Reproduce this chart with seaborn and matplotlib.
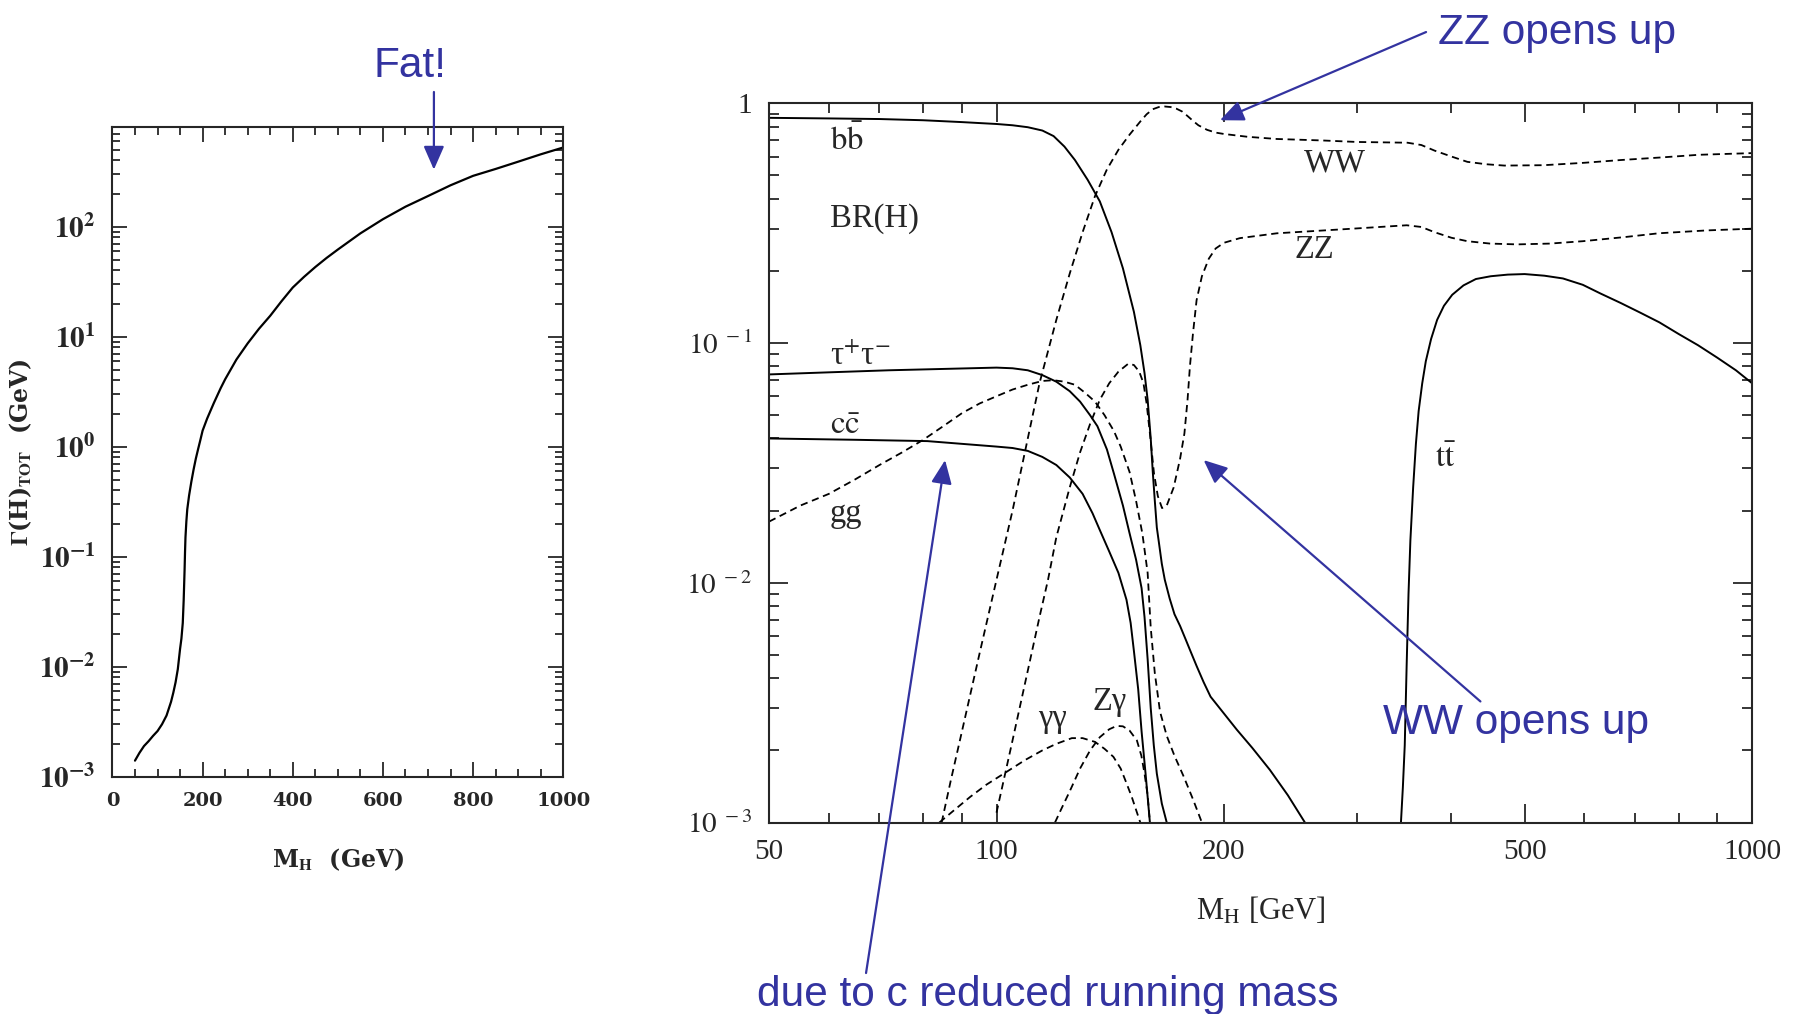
import math
import matplotlib
matplotlib.use("Agg")
import matplotlib.pyplot as plt
import matplotlib.ticker as mticker
import seaborn as sns

# ---- total width Gamma(H) vs M_H (left panel) ----
m_tot = [50, 60, 70, 80, 90, 100, 110, 120, 130, 135, 140, 145, 150, 153, 156, 158, 160, 161, 162,
         164, 166, 170, 175, 180, 185, 190, 195, 200, 210, 225, 240, 250, 275, 300, 325, 350, 375,
         400, 425, 450, 475, 500, 550, 600, 650, 700, 750, 800, 850, 900, 950, 1000]
gamma_tot = [1.4e-3, 1.65e-3, 1.9e-3, 2.1e-3, 2.35e-3, 2.6e-3, 3.0e-3, 3.6e-3, 4.8e-3, 5.8e-3,
             7.2e-3, 9.5e-3, 0.0145, 0.018, 0.025, 0.04, 0.075, 0.11, 0.15, 0.21, 0.27, 0.36, 0.48,
             0.62, 0.78, 0.95, 1.15, 1.4, 1.8, 2.5, 3.4, 4.1, 6.2, 8.7, 11.8, 15.5, 21, 28, 35, 43,
             52, 62, 87, 117, 152, 190, 238, 290, 335, 390, 455, 525]

# ---- branching ratios (right panel) ----
bb_m = [50, 60, 70, 80, 90, 100, 105, 110, 115, 119, 123, 127, 132, 137, 142, 147, 152, 155, 157,
        158.5, 160, 161, 162, 163, 164, 165.5, 167, 169.5, 172, 175, 178, 181, 184, 188, 192, 200,
        208, 218, 230, 243, 256]
bb_br = [0.87, 0.865, 0.86, 0.85, 0.835, 0.82, 0.81, 0.795, 0.77, 0.73, 0.66, 0.58, 0.48, 0.39,
         0.29, 0.205, 0.135, 0.098, 0.075, 0.058, 0.040, 0.029, 0.022, 0.017, 0.0148, 0.012, 0.0103,
         8.6e-3, 7.4e-3, 6.6e-3, 5.8e-3, 5.1e-3, 4.5e-3, 3.85e-3, 3.35e-3, 2.85e-3, 2.44e-3,
         2.05e-3, 1.66e-3, 1.3e-3, 1.0e-3]

tau_m = [50, 60, 72, 85, 100, 105, 110, 115, 120, 125, 129, 133, 136, 140, 143, 147, 150, 153,
         155.6, 157, 158.5, 160, 161.5, 163, 165.5, 168]
tau_br = [0.074, 0.0755, 0.077, 0.078, 0.079, 0.0785, 0.077, 0.0735, 0.069, 0.063, 0.057, 0.050,
          0.045, 0.036, 0.0286, 0.021, 0.0161, 0.0125, 9.5e-3, 7.2e-3, 4.8e-3, 3.0e-3, 2.1e-3,
          1.6e-3, 1.2e-3, 1.0e-3]

cc_m = [50, 65, 81, 100, 105, 110, 115, 120, 125, 130, 134, 137, 141, 145, 148.6, 150.5, 152, 154,
        155.6, 157.5, 159.6]
cc_br = [0.040, 0.0395, 0.039, 0.037, 0.0365, 0.0355, 0.0335, 0.031, 0.0275, 0.0235, 0.0195,
         0.0166, 0.0135, 0.011, 8.5e-3, 6.8e-3, 5.2e-3, 3.6e-3, 2.4e-3, 1.6e-3, 1.0e-3]

gg_m = [50, 55, 60, 65, 70, 75, 80, 85, 90, 95, 100, 105, 110, 115, 119, 123, 127, 131, 135, 139,
        143, 146, 150, 153, 156, 158.5, 160, 162, 164.6, 168, 172, 177, 182, 187]
gg_br = [0.018, 0.021, 0.0235, 0.027, 0.031, 0.035, 0.0395, 0.045, 0.051, 0.056, 0.060, 0.064,
         0.067, 0.0695, 0.070, 0.069, 0.067, 0.062, 0.057, 0.050, 0.043, 0.037, 0.029, 0.022,
         0.016, 0.011, 6.5e-3, 4.2e-3, 2.9e-3, 2.3e-3, 1.9e-3, 1.55e-3, 1.25e-3, 1.0e-3]

ww_m = [84.6, 87, 90, 95, 100, 105, 110, 114, 120, 125, 130, 135, 140, 145, 150, 155, 158, 161,
        164, 167, 170, 173, 176, 179, 182, 185, 190, 195, 200, 215, 235, 270, 300, 350, 365, 380,
        400, 420, 445, 470, 530, 600, 670, 760, 850, 1000]
ww_br = [1e-3, 1.5e-3, 2.4e-3, 5.1e-3, 0.0103, 0.02, 0.040, 0.068, 0.125, 0.195, 0.29, 0.41, 0.53,
         0.64, 0.74, 0.84, 0.9, 0.945, 0.965, 0.97, 0.965, 0.95, 0.925, 0.885, 0.845, 0.81, 0.775,
         0.755, 0.745, 0.725, 0.71, 0.70, 0.69, 0.685, 0.67, 0.635, 0.60, 0.57, 0.557, 0.55,
         0.552, 0.565, 0.58, 0.595, 0.61, 0.62]

zz_m = [100, 105, 110, 114, 117, 120, 125, 129, 133, 137, 141, 145, 149.4, 152, 154.5, 156.5, 158,
        159.6, 161.6, 163.5, 165.6, 168, 171.6, 175, 177.3, 179, 180.3, 182, 184, 187, 191, 195,
        200, 210, 235, 296, 349, 365, 380, 400, 420, 450, 489, 540, 597, 680, 752, 870, 1000]
zz_br = [1.1e-3, 2.2e-3, 4.3e-3, 7.2e-3, 0.0103, 0.0155, 0.025, 0.035, 0.046, 0.058, 0.068, 0.076,
         0.082, 0.081, 0.076, 0.068, 0.056, 0.042, 0.0286, 0.023, 0.0205, 0.021, 0.025, 0.033,
         0.042, 0.058, 0.080, 0.11, 0.151, 0.19, 0.225, 0.248, 0.262, 0.274, 0.287, 0.30, 0.31,
         0.305, 0.29, 0.275, 0.266, 0.26, 0.258, 0.26, 0.266, 0.277, 0.287, 0.295, 0.30]

gaga_m = [84, 88, 92.3, 97, 103.2, 109, 115, 120, 125.8, 130, 135, 139, 142.8, 146, 148.6, 151,
          153, 155]
gaga_br = [1e-3, 1.13e-3, 1.28e-3, 1.44e-3, 1.63e-3, 1.82e-3, 2.0e-3, 2.13e-3, 2.25e-3, 2.25e-3,
           2.17e-3, 2.03e-3, 1.88e-3, 1.68e-3, 1.46e-3, 1.28e-3, 1.13e-3, 1e-3]

zga_m = [119.5, 122, 125, 129, 133, 137, 141, 144.2, 147, 150, 153.4, 155.5, 157, 158.5, 159.6]
zga_br = [1e-3, 1.15e-3, 1.35e-3, 1.68e-3, 2.0e-3, 2.27e-3, 2.45e-3, 2.53e-3, 2.52e-3, 2.42e-3,
          2.2e-3, 1.9e-3, 1.6e-3, 1.3e-3, 1e-3]

tt_m = [343, 345, 347, 349, 351, 353, 356, 359, 362, 366, 370, 376, 383, 391, 401, 415, 431, 451,
        475, 500, 531, 562, 597, 630, 670, 711, 754, 800, 848, 899, 952, 1000]
tt_br = [1e-3, 1.4e-3, 2.1e-3, 4.5e-3, 9e-3, 0.015, 0.025, 0.038, 0.052, 0.068, 0.084, 0.104,
         0.125, 0.143, 0.159, 0.174, 0.185, 0.190, 0.193, 0.194, 0.191, 0.186, 0.175, 0.161,
         0.147, 0.134, 0.122, 0.109, 0.098, 0.087, 0.077, 0.068]

solid = [(bb_m, bb_br), (tau_m, tau_br), (cc_m, cc_br), (tt_m, tt_br)]
dashed = [(gg_m, gg_br), (ww_m, ww_br), (zz_m, zz_br), (gaga_m, gaga_br), (zga_m, zga_br)]

# channel labels: text, M_H, BR
labels = [(r'$\mathrm{b\bar{b}}$', 60.2, 0.70), ('BR(H)', 60.2, 0.33),
          ('τ$^{+}$τ$^{-}$', 60.2, 0.088), (r'$\mathrm{c\bar{c}}$', 60.2, 0.045),
          ('gg', 60.2, 0.0194), ('γγ', 113.5, 2.72e-3), ('Zγ', 134, 3.2e-3),
          ('WW', 255, 0.56), ('ZZ', 248, 0.245), (r'$\mathrm{t\bar{t}}$', 380, 0.033)]

BLUE = '#3333a0'

sns.set_style('ticks')
plt.rcParams['font.family'] = ['Liberation Serif', 'DejaVu Serif']
plt.rcParams['mathtext.fontset'] = 'stix'

fig = plt.figure(figsize=(17.99, 10.14), dpi=100)

# ---------------- left panel ----------------
axl = fig.add_axes([0.0625, 0.234, 0.2506, 0.6404])
sns.lineplot(x=m_tot, y=gamma_tot, ax=axl, color='black', lw=1.6, estimator=None, sort=False)
axl.set_yscale('log')
axl.set_xlim(0, 1000)
axl.set_ylim(1e-3, 800)
axl.xaxis.set_major_locator(mticker.MultipleLocator(200))
axl.xaxis.set_minor_locator(mticker.MultipleLocator(50))
axl.yaxis.set_major_locator(mticker.LogLocator(base=10, numticks=10))
axl.yaxis.set_minor_locator(mticker.LogLocator(base=10, subs=range(2, 10), numticks=20))
axl.yaxis.set_major_formatter(mticker.FuncFormatter(
    lambda v, p: r'$\mathbf{10^{%d}}$' % round(math.log10(v))))
axl.xaxis.set_major_formatter(mticker.FuncFormatter(lambda v, p: '%d' % v))
axl.tick_params(which='both', direction='in', top=True, right=True, width=1.3)
axl.tick_params(which='major', length=11, labelsize=14, pad=11)
axl.tick_params(which='minor', length=6)
axl.tick_params(axis='y', which='major', labelsize=21, pad=12)
for t in axl.get_xticklabels():
    t.set_fontweight('bold')
    t.set_family('DejaVu Serif')
for s in axl.spines.values():
    s.set_linewidth(1.5)
axl.set_xlabel(r'M$_\mathrm{\mathbf{H}}$  (GeV)', fontsize=17, fontweight='bold',
               family='DejaVu Serif', labelpad=26)
axl.set_ylabel(r'$\mathbf{\Gamma}$(H)$_\mathbf{TOT}$  (GeV)', fontsize=17, fontweight='bold',
               family='DejaVu Serif', labelpad=4)

fig.text(0.2279, 0.9345, 'Fat!', color=BLUE, fontsize=30.5, family='Liberation Sans',
         ha='center', va='center')
axl.annotate('', xy=(713, 330), xycoords='data', xytext=(0.2412, 0.9093),
             textcoords='figure fraction',
             arrowprops=dict(arrowstyle='-|>,head_length=0.8,head_width=0.35', color=BLUE,
                             lw=1.6, shrinkA=0, shrinkB=0, mutation_scale=18))

# ---------------- right panel ----------------
axr = fig.add_axes([0.4275, 0.1888, 0.5464, 0.7093])
for mx, by in solid:
    sns.lineplot(x=mx, y=by, ax=axr, color='black', lw=1.4, estimator=None, sort=False)
for mx, by in dashed:
    sns.lineplot(x=mx, y=by, ax=axr, color='black', lw=1.3, estimator=None, sort=False,
                 linestyle=(0, (4, 2.6)))
axr.set_xscale('log')
axr.set_yscale('log')
axr.set_xlim(50, 1000)
axr.set_ylim(1e-3, 1)
axr.xaxis.set_major_locator(mticker.FixedLocator([50, 100, 200, 500, 1000]))
axr.xaxis.set_major_formatter(mticker.FixedFormatter(['50', '100', '200', '500', '1000']))
axr.xaxis.set_minor_locator(mticker.FixedLocator([60, 70, 80, 90, 300, 400, 600, 700, 800, 900]))
axr.xaxis.set_minor_formatter(mticker.NullFormatter())
axr.yaxis.set_major_locator(mticker.FixedLocator([1e-3, 1e-2, 1e-1, 1]))
axr.yaxis.set_major_formatter(mticker.FixedFormatter(
    [r'$10^{\ -3}$', r'$10^{\ -2}$', r'$10^{\ -1}$', '1']))
axr.yaxis.set_minor_locator(mticker.LogLocator(base=10, subs=range(2, 10), numticks=20))
axr.yaxis.set_minor_formatter(mticker.NullFormatter())
axr.tick_params(which='both', direction='in', top=True, right=True, width=1.3)
axr.tick_params(which='major', length=14, labelsize=21, pad=12)
axr.tick_params(which='minor', length=7)
for s in axr.spines.values():
    s.set_linewidth(1.5)
axr.set_xlabel(r'M$_\mathrm{H}$ [GeV]', fontsize=22, labelpad=22)
axr.set_ylabel('')

for txt, mx, by in labels:
    axr.text(mx, by, txt, fontsize=23.5, ha='left', va='center')

arrow_kw = dict(arrowstyle='-|>,head_length=0.8,head_width=0.35', color=BLUE, lw=1.6,
                shrinkA=0, shrinkB=0, mutation_scale=18)
axr.annotate('', xy=(197.6, 0.85), xycoords='data', xytext=(0.7927, 0.9684),
             textcoords='figure fraction', arrowprops=arrow_kw)
axr.annotate('', xy=(188, 0.0325), xycoords='data', xytext=(437, 3.2e-3),
             textcoords='data', arrowprops=arrow_kw)
axr.annotate('', xy=(85.5, 0.0325), xycoords='data', xytext=(0.4814, 0.0404),
             textcoords='figure fraction', arrowprops=arrow_kw)

fig.text(0.7993, 0.9676, 'ZZ opens up', color=BLUE, fontsize=30.5, family='Liberation Sans',
         ha='left', va='center')
fig.text(0.7686, 0.2871, 'WW opens up', color=BLUE, fontsize=30.5, family='Liberation Sans',
         ha='left', va='center')
fig.text(0.4208, 0.0183, 'due to c reduced running mass', color=BLUE, fontsize=30.5,
         family='Liberation Sans', ha='left', va='center')

fig.savefig('out.png', dpi=100, facecolor='white')
